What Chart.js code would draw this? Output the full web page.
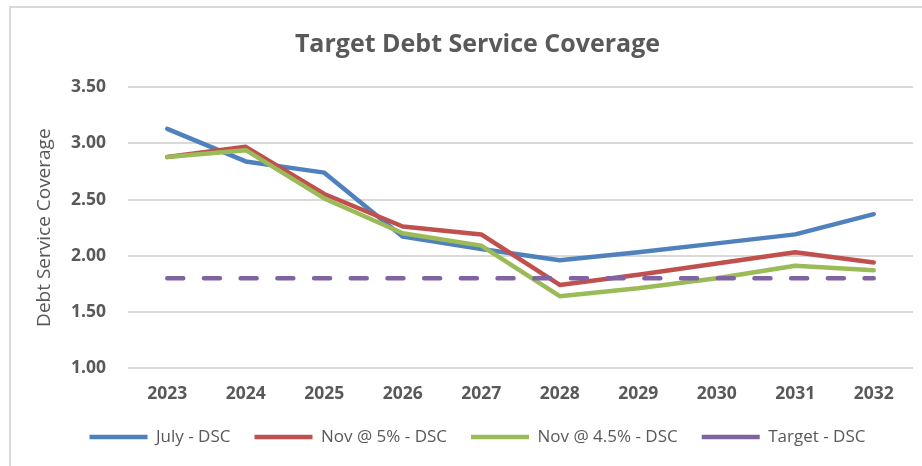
<!DOCTYPE html>
<html>
<head>
<meta charset="utf-8">
<script src="https://cdn.jsdelivr.net/npm/chart.js@4"></script>
<style>
  body { margin: 0; background: #fff; }
  #wrap { position: relative; width: 922px; height: 466px; }
  #frame { position: absolute; left: 9px; top: 6px; right: 0; bottom: 0;
           border-top: 2px solid #d9d9d9; border-left: 2px solid #d9d9d9; pointer-events: none; }
</style>
</head>
<body>
<div id="wrap">
  <canvas id="dscChart" width="922" height="466"></canvas>
  <div id="frame"></div>
</div>
<script>
var years = ['2023', '2024', '2025', '2026', '2027', '2028', '2029', '2030', '2031', '2032'];
var julyDsc = [3.13, 2.84, 2.74, 2.17, 2.06, 1.96, 2.03, 2.11, 2.19, 2.37];
var nov5Dsc = [2.88, 2.97, 2.55, 2.26, 2.19, 1.74, 1.83, 1.93, 2.03, 1.94];
var nov45Dsc = [2.88, 2.94, 2.51, 2.20, 2.09, 1.64, 1.71, 1.80, 1.91, 1.87];
var targetDsc = [1.80, 1.80, 1.80, 1.80, 1.80, 1.80, 1.80, 1.80, 1.80, 1.80];

var textColor = '#595959';

function line(label, data, color, order) {
    return {
        label: label,
        data: data,
        borderColor: color,
        backgroundColor: color,
        borderWidth: 4.5,
        borderCapStyle: 'round',
        borderJoinStyle: 'round',
        pointRadius: 0,
        tension: 0,
        order: order
    };
}

var target = line('Target - DSC', targetDsc, '#8064a2', 0);
target.borderDash = [16, 20.7];

var ctx = document.getElementById('dscChart').getContext('2d');
var dscChart = new Chart(ctx, {
    type: 'line',
    data: {
        labels: years,
        datasets: [
            line('July - DSC', julyDsc, '#4f81bd', 3),
            line('Nov @ 5% - DSC', nov5Dsc, '#c0504d', 2),
            line('Nov @ 4.5% - DSC', nov45Dsc, '#9bbb59', 1),
            target
        ]
    },
    options: {
        responsive: false,
        animation: false,
        // left padding centres title and legend like the original
        layout: { padding: { left: 42, right: 9, top: 0, bottom: 10.5 } },
        plugins: {
            title: {
                display: true,
                text: 'Target Debt Service Coverage',
                color: textColor,
                font: { family: 'Open Sans', size: 25, weight: 'bold' },
                padding: { top: 30, bottom: 27.3 }
            },
            legend: {
                position: 'bottom',
                labels: {
                    usePointStyle: true,
                    pointStyle: 'line',
                    pointStyleWidth: 58,
                    padding: 24,
                    color: textColor,
                    font: { family: 'Open Sans', size: 17 },
                    sort: function(a, b) { return a.datasetIndex - b.datasetIndex; }
                }
            },
            tooltip: { enabled: false }
        },
        scales: {
            x: {
                offset: true,
                grid: { display: false },
                border: { display: false },
                ticks: {
                    color: textColor,
                    padding: 8,
                    font: { family: 'Open Sans', size: 17.5, weight: 'bold' }
                },
                afterFit: function(scale) { scale.height = 36.5; }
            },
            y: {
                min: 1,
                max: 3.5,
                grid: { color: '#d9d9d9', lineWidth: 2, drawTicks: false },
                border: { display: false },
                ticks: {
                    stepSize: 0.5,
                    padding: 22,
                    color: textColor,
                    font: { family: 'Open Sans', size: 17.5, weight: 'bold' },
                    callback: function(v) { return v.toFixed(2); }
                },
                title: {
                    display: true,
                    text: 'Debt Service Coverage',
                    color: textColor,
                    font: { family: 'Open Sans', size: 19 },
                    padding: { top: -8.4, bottom: 0 }
                },
                afterFit: function(scale) { scale.width = 86; }
            }
        }
    }
});
</script>
</body>
</html>
